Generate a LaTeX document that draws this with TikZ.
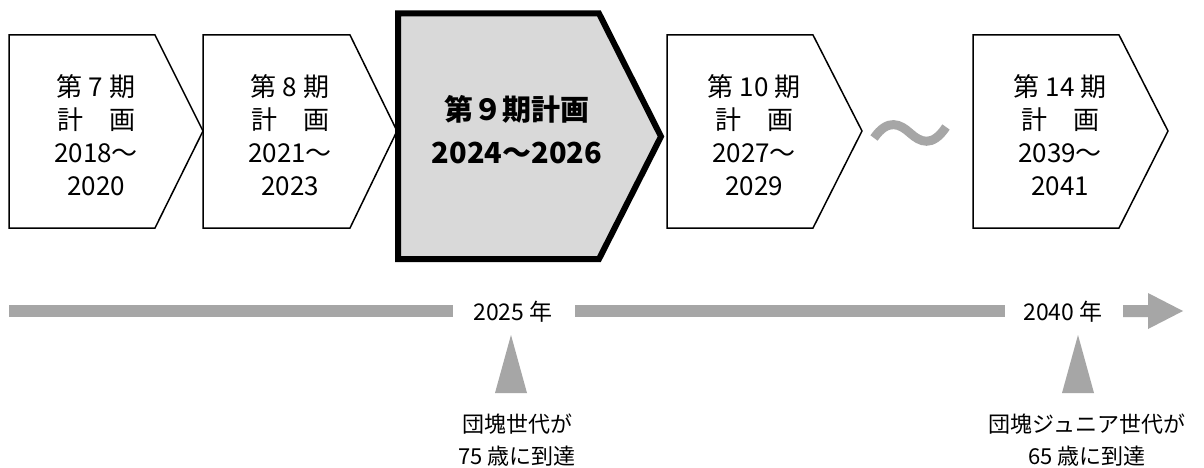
\documentclass[tikz,border=0pt]{standalone}
\usepackage{fontspec}
\setmainfont{Noto Sans CJK JP}
\definecolor{bargray}{HTML}{A6A6A6}
\definecolor{boxgray}{HTML}{D9D9D9}
\begin{document}
\begin{tikzpicture}[x=1pt,y=-1pt,
  thinbox/.style={draw=black,line width=1.5pt,fill=white,line join=miter},
  boldbox/.style={draw=black,line width=6pt,fill=boxgray,line join=miter},
  boxtext/.style={align=center,font=\fontsize{26}{33}\selectfont,inner sep=0pt},
  boldtext/.style={align=center,font=\fontsize{29}{43}\selectfont\bfseries,inner sep=0pt},
  yeartext/.style={font=\fontsize{23}{30}\selectfont,inner sep=0pt},
  labeltext/.style={align=center,font=\fontsize{22}{32}\selectfont,inner sep=0pt},
  barshape/.style={fill=bargray,draw=none}]
\useasboundingbox[fill=white] (0,0) rectangle (1204,468);
% boxes
\draw[thinbox] (9,35) -- (155,35) -- (203,131) -- (155,228) -- (9,228) -- cycle;
\draw[thinbox] (203,35) -- (350,35) -- (397,131) -- (350,228) -- (203,228) -- cycle;
\draw[thinbox] (667,35) -- (813,35) -- (862,131) -- (813,228) -- (667,228) -- cycle;
\draw[thinbox] (973,35) -- (1119,35) -- (1168,131) -- (1119,228) -- (973,228) -- cycle;
\draw[boldbox] (398,13.5) -- (599,13.5) -- (661,136.5) -- (599,259) -- (398,259) -- cycle;
% texts
\node[boxtext] (p7) at (96,135.5) {第 7 期\\計　画\\2018～\\2020};
\node[boxtext] (p8) at (290,135.5) {第 8 期\\計　画\\2021～\\2023};
\node[boldtext] (p9) at (517,130) {第９期計画\\2024～2026};
\node[boxtext] (p10) at (754,135.5) {第 10 期\\計　画\\2027～\\2029};
\node[boxtext] (p14) at (1060,135.5) {第 14 期\\計　画\\2039～\\2041};
% tilde
\draw[bargray,line width=9pt] (874,138) .. controls (888,118) and (900,124) .. (910,133) .. controls (920,142) and (932,148) .. (946,127);
% timeline
\node[yeartext] (y2025) at (513,312) {2025 年};
\node[yeartext] (y2040) at (1063,312) {2040 年};
\fill[barshape] (9,305) rectangle (453,317);
\fill[barshape] (575,305) rectangle (1005,317);
\fill[barshape] (1123,305) -- (1148,305) -- (1148,293) -- (1183,311) -- (1148,329) -- (1148,317) -- (1123,317) -- cycle;
% triangles
\fill[barshape] (495,393) -- (511,335) -- (527,393) -- cycle;
\fill[barshape] (1062,393) -- (1078,335) -- (1094,393) -- cycle;
% labels
\node[labeltext] (l1) at (517,440) {団塊世代が\\75 歳に到達};
\node[labeltext] (l2) at (1087,440) {団塊ジュニア世代が\\65 歳に到達};
\end{tikzpicture}
\end{document}
